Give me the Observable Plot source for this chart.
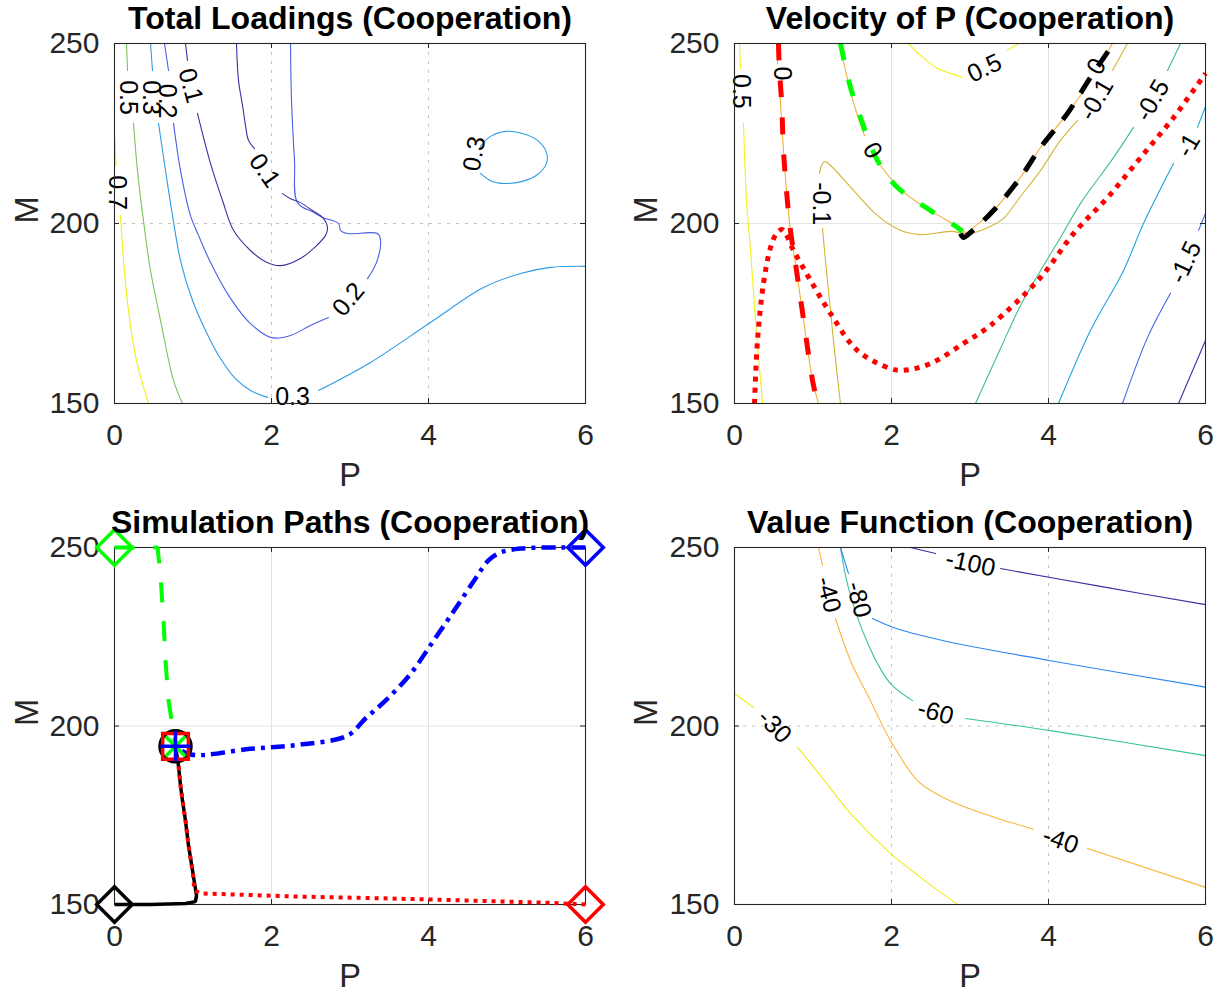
<!DOCTYPE html>
<html><head><meta charset="utf-8">
<script src="https://cdn.jsdelivr.net/npm/d3@7"></script>
<script src="https://cdn.jsdelivr.net/npm/@observablehq/plot@0.6"></script>
<style>
html,body{margin:0;padding:0;background:#fff;}
#fig{position:relative;width:1230px;height:994px;overflow:hidden;background:#fff;}
#fig svg{position:absolute;overflow:visible;}
</style></head><body><div id="fig"></div>
<script>
// ---------- axes ----------
const pTicks = [0, 2, 4, 6];
const mTicks = [150, 200, 250];
const titles = ["Total Loadings (Cooperation)", "Velocity of P (Cooperation)", "Simulation Paths (Cooperation)", "Value Function (Cooperation)"];

// ---------- Panel 1: Total Loadings contour lines [P, M], split at label gaps ----------
const load_0p1 = [
  [[0.904,250],[0.93,245.3]],
  [[1.057,230.6],[1.223,216.7],[1.376,206.4],[1.516,198.1],[1.732,192.5],[1.924,189.4],[2.115,188.3],[2.369,190.3],[2.561,193.6],[2.688,196.7],[2.713,198.9],[2.65,201.7],[2.522,203.6],[2.369,205.8],[2.242,206.9],[2.14,208.3]],
  [[1.783,220.8],[1.707,223.1],[1.669,227.2],[1.631,232.8],[1.58,239.7],[1.554,250]]
];
const load_0p2 = [
  [[0.637,250],[0.688,242.5]],
  [[0.752,227.8],[0.841,214.7],[0.968,202.2],[1.07,196.7],[1.223,189.2],[1.478,179.2],[1.732,172.2],[2.0,168.3],[2.242,168.9],[2.497,171.7],[2.726,173.9]],
  [[3.223,184.7],[3.338,189.2],[3.389,195.3],[3.35,197.2],[2.968,197.2],[2.879,198.1],[2.854,200],[2.65,201.7],[2.535,203.1],[2.331,205.8],[2.293,217.5],[2.255,234.2],[2.242,250]]
];
const load_0p3 = [
  [[0.459,250],[0.484,242.5]],
  [[0.561,227.8],[0.65,214.7],[0.739,202.2],[0.841,189.7],[0.994,178.6],[1.159,170.3],[1.35,162.5],[1.541,156.9],[1.732,153.6],[1.949,151.7]],
  [[2.599,153.6],[3.261,161.4],[4.025,172.5],[4.701,182.2],[5.172,186.1],[5.554,187.8],[6,188.1]],
  [[4.662,221.4],[4.79,224.2],[4.981,225.6],[5.197,225],[5.389,223.1],[5.503,219.7],[5.503,216.7],[5.389,213.6],[5.197,211.7],[4.981,211.1],[4.79,211.9],[4.662,213.9]]
];
const load_0p5 = [
  [[0.153,250],[0.166,242.5]],
  [[0.242,227.8],[0.293,214.7],[0.369,200.8],[0.459,186.9],[0.586,173.1],[0.752,156.4],[0.866,150]]
];
const load_0p7 = [
  [[0.006,223.1],[0.019,216.1]],
  [[0.076,202.2],[0.115,189.7],[0.178,175.8],[0.28,161.9],[0.433,150]]
];
const load_labels = [
  {P:0.178,M:235,t:"0.5",a:90},{P:0.459,M:235,t:"0.3",a:90},{P:0.665,M:234,t:"0.2",a:90},
  {P:0.968,M:238.3,t:"0.1",a:75},{P:0.038,M:208.6,t:"0.7",a:90},{P:1.911,M:214.7,t:"0.1",a:55},
  {P:2.981,M:178.9,t:"0.2",a:-50},{P:2.268,M:151.7,t:"0.3",a:0},{P:4.586,M:219.4,t:"0.3",a:-80}
];

// ---------- Panel 2: Velocity of P contour lines ----------
const vel_p0p5 = [
  [[0.064,250],[0.076,243.1]],
  [[0.115,227.8],[0.153,206.4],[0.204,192.5],[0.268,173.1],[0.357,150]],
  [[2.217,250],[2.369,246.7],[2.586,243.1],[2.752,241.7],[2.904,240.6]],
  [[3.477,248.1],[3.618,250]]
];
const vel_0 = [
  [[0.535,250],[0.548,244.4]],
  [[0.573,238.1],[0.624,220.3],[0.662,209.2],[0.713,198.1],[0.79,186.9],[0.854,177.2],[0.917,167.5],[0.994,156.4],[1.07,150]],
  [[1.338,250],[1.414,242.5],[1.49,235.6],[1.567,230],[1.656,224.4]],
  [[1.86,216.1],[2.013,211.9],[2.178,208.3],[2.433,204.4],[2.688,201.1],[2.879,198.6],[2.955,197.5],[3.07,199.4],[3.299,203.6],[3.643,212.8],[3.898,221.1],[4.242,230.6],[4.471,237.5]],
  [[4.764,248.1],[4.815,250]]
];
const vel_m0p1 = [
  [[1.35,150],[1.274,164.7],[1.21,178.6],[1.159,189.7],[1.121,198.6]],
  [[1.083,213.9],[1.108,216.1],[1.146,217.2],[1.21,216.4],[1.516,209.2],[1.822,202.2],[2.115,198.1],[2.369,196.9],[2.752,197.8],[3.006,197.2],[3.261,199.2],[3.427,201.4],[3.643,207.5],[3.898,214.7],[4.153,223.1],[4.369,228.6]],
  [[4.815,242.5],[5.006,250]]
];
const vel_m0p5 = [
  [[3.07,150],[3.389,165.3],[3.643,177.2],[3.898,186.9],[4.153,196.1],[4.408,205.6],[4.828,218.3],[5.083,226.7]],
  [[5.516,242.5],[5.682,250]]
];
const vel_m1 = [
  [[4.127,150],[4.535,170.3],[4.955,186.9],[5.21,200],[5.592,216.7]],
  [[5.898,226.7],[6,232.5]]
];
const vel_m1p5 = [
  [[4.943,150],[5.261,168.3],[5.554,180.6]],
  [[5.911,198.1],[6,202.8]]
];
const vel_m2 = [
  [[5.656,150],[6,167.5]]
];
const velRedDashed = [[0.56,250],[0.573,242.5],[0.599,234.2],[0.624,220.3],[0.662,209.2],[0.713,198.1],[0.79,186.9],[0.854,177.2],[0.917,167.5],[0.994,156.4],[1.057,150]];
const velRedDotted = [[0.255,150],[0.293,167.5],[0.369,183.3],[0.459,193.3],[0.535,197.2],[0.611,198.3],[0.752,192.5],[0.968,184.2],[1.223,175],[1.567,164.7],[1.987,159.7],[2.153,159.2],[2.497,161.1],[2.917,166.7],[3.261,171.7],[3.898,185],[4.318,197.2],[4.752,207.2],[5.172,218.3],[5.592,229.4],[6,241.7]];
const velGreenDashed = [[1.35,250],[1.478,237.8],[1.631,227.8],[1.822,217.5],[2.076,210],[2.497,203.6],[2.841,198.9],[2.904,197.8]];
const velBlackDashed = [[2.879,197.2],[2.917,196.1],[3.006,197.5],[3.299,203.6],[3.643,212.8],[3.898,221.1],[4.242,230.6],[4.535,240.6],[4.828,250]];
const vel_labels = [
  {P:0.089,M:236.7,t:"0.5",a:90},{P:0.599,M:241.7,t:"0",a:90},{P:1.758,M:220.3,t:"0",a:60},
  {P:1.096,M:205.5,t:"-0.1",a:90},{P:3.185,M:243.1,t:"0.5",a:-25},{P:4.611,M:243.6,t:"0",a:-60},
  {P:4.611,M:234.4,t:"-0.1",a:-60},{P:5.325,M:234.2,t:"-0.5",a:-60},{P:5.783,M:221.7,t:"-1",a:-60},
  {P:5.745,M:189.2,t:"-1.5",a:-65}
];

// ---------- Panel 3: simulation paths ----------
const simGreen = [[0,250],[0.548,250],[0.586,242.2],[0.624,229.6],[0.65,218.3],[0.688,207.1],[0.739,200.1],[0.777,194.3]];
const simBlue = [[6,250],[5.682,250],[5.172,249.7],[4.917,248.6],[4.764,246.4],[4.599,241.3],[4.344,232.9],[4.064,223.9],[3.771,214.6],[3.452,207.1],[3.197,202.1],[2.968,197.3],[2.369,194.8],[1.732,193.6],[0.968,192],[0.777,194.3]];
const simRed = [[6,150],[5.5,150.5],[4.5,151.1],[3.5,151.7],[2.369,152.2],[1.096,153.1],[1.019,153.9],[0.994,159.5],[0.943,166.5],[0.904,173.5],[0.866,179.1],[0.841,183.3],[0.815,188.9],[0.777,194.3]];
const simBlack = [[0,150],[0.458,150],[0.904,150.3],[1.03,150.8],[1.045,152.5],[1.019,156],[0.994,159.5],[0.943,166.5],[0.904,173.5],[0.866,179.1],[0.841,183.3],[0.815,188.9],[0.777,194.3]];
const simStartP = [0, 6, 6, 0];
const simStartM = [250, 250, 150, 150];
const simEnd = [[0.777, 194.3]];

// ---------- Panel 4: Value Function contour lines ----------
const val_m30 = [
  [[0,209.1],[0.242,205.2]],
  [[0.803,194],[1.096,186.1],[1.478,175.5],[1.987,164.3],[2.369,157.6],[2.841,150]]
];
const val_m40 = [
  [[1.07,250],[1.121,245]],
  [[1.287,230.1],[1.478,218.3],[1.732,207.1],[1.987,195.9],[2.331,184.7],[2.624,180.4],[2.968,177.0],[3.389,173.9],[3.809,171.1]],
  [[4.497,165.7],[6,154.8]]
];
const val_m60 = [
  [[1.35,250],[1.414,242.2],[1.478,236.6],[1.58,229.6],[1.682,224],[1.822,217.5],[1.987,211.9],[2.268,207.1]],
  [[2.943,202.1],[4.025,198.7],[6,191.7]]
];
const val_m80 = [
  [[1.35,250],[1.452,242.7]],
  [[1.758,230.1],[2.025,227.6],[2.662,223.9],[4.025,218.3],[6,210.9]]
];
const val_m100 = [
  [[2.242,250],[2.561,248.3]],
  [[3.389,244.1],[4.662,239.1],[6,234.0]]
];
const val_labels = [
  {P:3.006,M:245.5,t:"-100",a:12},{P:1.58,M:235.4,t:"-80",a:75},{P:1.197,M:236.8,t:"-40",a:75},
  {P:2.561,M:203.8,t:"-60",a:15},{P:0.51,M:199.9,t:"-30",a:45},{P:4.153,M:167.9,t:"-40",a:20}
];

// ---------- styles ----------
const FONT = '"Liberation Sans", Arial, Helvetica, sans-serif';
const AX = "#262626";
const C = {
  l01:"#3e2fa0", l02:"#4a5fe6", l03:"#2c9be6", l05:"#7cc35a", l07:"#f0f018",
  v05:"#f3f21a", v0:"#efb03a", vm01:"#d3b434", vm05:"#3dbf86", vm1:"#1fa6de", vm15:"#4068ea", vm2:"#3c2ca4",
  w30:"#f0ee14", w40:"#fbb53a", w60:"#35c2a0", w80:"#2e86f2", w100:"#3c2ca4"
};

function toRows(segs){ const out=[]; segs.forEach((s,i)=>s.forEach(([P,M])=>out.push({P,M,seg:i}))); return out; }
function pts(arr){ return arr.map(([P,M])=>({P,M})); }
function contour(segs, color){
  return Plot.line(toRows(segs), {x:"P", y:"M", z:"seg", stroke:color, strokeWidth:1.1, curve:"catmull-rom"});
}
function thick(arr, color, w, dash, curve){
  return Plot.line(pts(arr), {x:"P", y:"M", stroke:color, strokeWidth:w, strokeDasharray:dash, strokeLinecap:"butt", strokeLinejoin:"miter", curve:curve||"linear"});
}
function labels(arr){
  return Plot.text(arr, {x:"P", y:"M", text:"t", rotate:"a", fontSize:25, fill:"#000", fontFamily:FONT, lineAnchor:"middle"});
}
const tkM = 5/3.6, tkP = 5/78.5;
function frameMarks(dotted){
  const g = dotted ? {stroke:"#c4c4c4", strokeDasharray:"3,6"} : {stroke:"#e3e3e3"};
  return {
    grid: [Plot.ruleX(pTicks.slice(1,-1), g), Plot.ruleY(mTicks.slice(1,-1), g)],
    box: [
      Plot.frame({stroke:AX, strokeWidth:1.1}),
      Plot.ruleX(pTicks, {y1:150, y2:150+tkM, stroke:AX}),
      Plot.ruleX(pTicks, {y1:250, y2:250-tkM, stroke:AX}),
      Plot.ruleY(mTicks, {x1:0, x2:tkP, stroke:AX}),
      Plot.ruleY(mTicks, {x1:6, x2:6-tkP, stroke:AX})
    ]
  };
}
function texts(title, mDx){
  return [
    Plot.text([title], {frameAnchor:"top", lineAnchor:"middle", dy:-25, fontSize:32, fontWeight:"bold", fill:"#000", fontFamily:FONT}),
    Plot.text(["P"], {frameAnchor:"bottom", lineAnchor:"middle", dy:72, fontSize:32.5, fill:AX, fontFamily:FONT}),
    Plot.text(["M"], {frameAnchor:"left", lineAnchor:"middle", dx:mDx, rotate:-90, fontSize:32.5, fill:AX, fontFamily:FONT})
  ];
}
function panel(left, top, m, marks){
  const svg = Plot.plot({
    width:615, height:497,
    marginLeft:m[0], marginRight:m[1], marginTop:m[2], marginBottom:m[3],
    x:{domain:[0,6], ticks:pTicks, tickSize:0, tickPadding:20, label:null, tickFormat:d=>String(d)},
    y:{domain:[150,250], ticks:mTicks, tickSize:0, tickPadding:15, label:null, tickFormat:d=>String(d)},
    style:{fontFamily:FONT, fontSize:"30px", color:AX, background:"transparent", overflow:"visible"},
    marks
  });
  svg.style.left = left+"px"; svg.style.top = top+"px";
  document.getElementById("fig").append(svg);
}

// Panel 1
{
  const f = frameMarks(true);
  panel(0, 0, [114, 30, 43, 94], [
    ...f.grid,
    contour(load_0p7, C.l07), contour(load_0p5, C.l05), contour(load_0p3, C.l03),
    contour(load_0p2, C.l02), contour(load_0p1, C.l01),
    labels(load_labels),
    ...f.box, ...texts(titles[0], -87)
  ]);
}
// Panel 2
{
  const f = frameMarks(false);
  panel(615, 0, [119, 25, 43, 94], [
    ...f.grid,
    contour(vel_p0p5, C.v05), contour(vel_m0p1, C.vm01), contour(vel_0, C.v0),
    contour(vel_m0p5, C.vm05), contour(vel_m1, C.vm1), contour(vel_m1p5, C.vm15), contour(vel_m2, C.vm2),
    thick(velRedDashed, "#ff0000", 5, "17,20", "catmull-rom"),
    thick(velGreenDashed, "#00ff00", 5, "17,20", "catmull-rom"),
    thick(velBlackDashed, "#000000", 5, "18,14", "catmull-rom"),
    thick(velRedDotted, "#ff0000", 5, "5,6", "catmull-rom"),
    labels(vel_labels),
    ...f.box, ...texts(titles[1], -88)
  ]);
}
// Panel 3
{
  const f = frameMarks(false);
  const starts = simStartP.map((P,i)=>({P, M:simStartM[i], k:i}));
  const startColors = ["#00ff00", "#0000ff", "#ff0000", "#000000"];
  const end = pts(simEnd);
  panel(0, 497, [114, 30, 50, 90], [
    ...f.grid,
    ...f.box,
    thick(simBlack, "#000000", 3.5, null),
    thick(simRed, "#ff0000", 4, "4,5"),
    thick(simGreen, "#00ff00", 4, "20,19"),
    thick(simBlue, "#0000ff", 4.5, "14,6,4,6", "catmull-rom"),
    Plot.dot(starts, {x:"P", y:"M", symbol:"diamond2", r:16, stroke:d=>startColors[d.k], strokeWidth:3.5, fill:"none"}),
    Plot.dot(end, {x:"P", y:"M", symbol:"circle", r:15.5, stroke:"#000", strokeWidth:3.5, fill:"none"}),
    Plot.dot(end, {x:"P", y:"M", symbol:"square", r:14.5, stroke:"#ff0000", strokeWidth:3.5, fill:"none"}),
    Plot.dot(end, {x:"P", y:"M", symbol:"times", r:9, stroke:"#00ff00", strokeWidth:3.5, fill:"none"}),
    Plot.dot(end, {x:"P", y:"M", symbol:"plus", r:9.7, stroke:"#0000ff", strokeWidth:3.5, fill:"none"}),
    ...texts(titles[2], -87)
  ]);
}
// Panel 4
{
  const f = frameMarks(true);
  panel(615, 497, [119, 25, 50, 90], [
    ...f.grid,
    contour(val_m30, C.w30), contour(val_m40, C.w40), contour(val_m60, C.w60),
    contour(val_m80, C.w80), contour(val_m100, C.w100),
    labels(val_labels),
    ...f.box, ...texts(titles[3], -88)
  ]);
}
</script></body></html>
